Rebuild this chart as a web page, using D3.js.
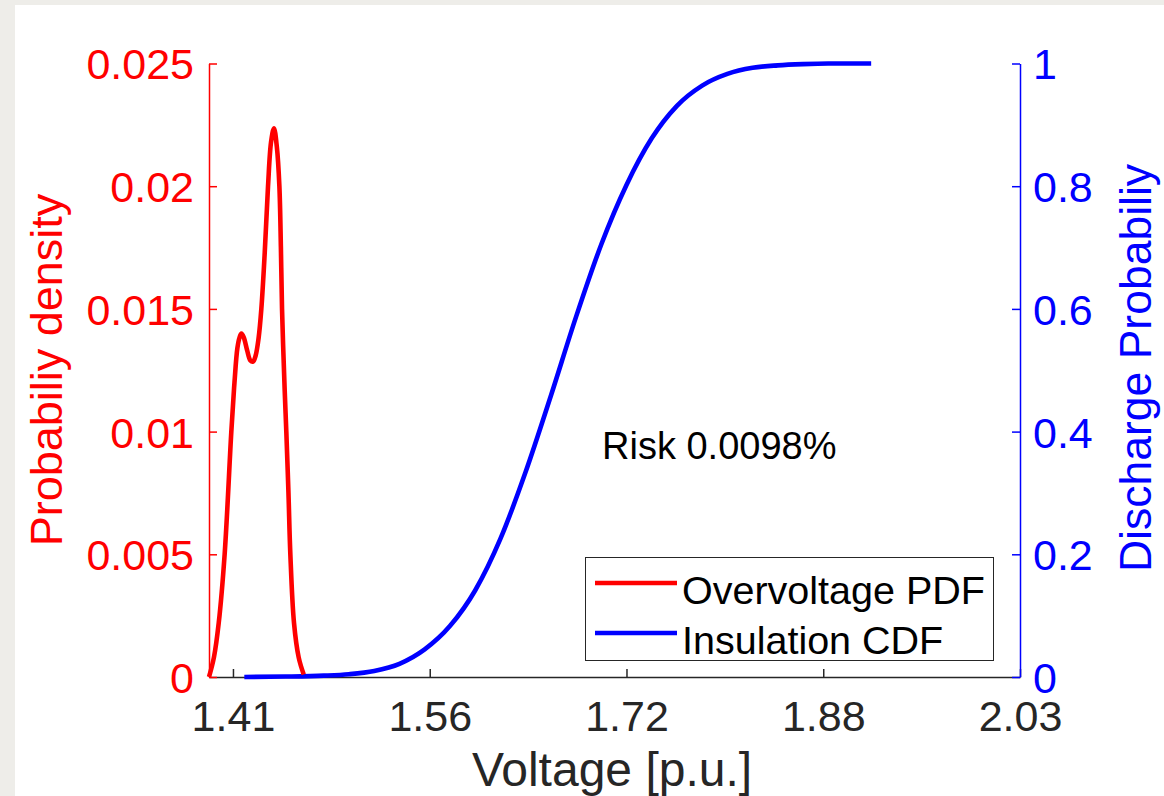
<!DOCTYPE html>
<html>
<head>
<meta charset="utf-8">
<script src="https://cdn.jsdelivr.net/npm/d3@7"></script>
<style>
  html, body { margin: 0; padding: 0; background: #eeede9; }
  svg { display: block; font-family: "Liberation Sans", Arial, Helvetica, sans-serif; }
</style>
</head>
<body>
<svg id="chart" width="1164" height="796"></svg>
<script>
// ---- Data ----
// Overvoltage PDF: voltage [p.u.] and probability density
const pdfVoltage = [1.389, 1.3929, 1.3967, 1.4014, 1.4067, 1.4092, 1.4115, 1.4133, 1.4147, 1.4165, 1.4193, 1.4218, 1.4239,
                    1.4260, 1.4283, 1.4305, 1.4332, 1.4358, 1.4382, 1.4405, 1.4428, 1.4448, 1.4460, 1.4469,
                    1.4490, 1.4503, 1.4520, 1.4535, 1.4564, 1.4601, 1.4641];
const pdfDensity = [0.0000, 0.0008, 0.0022, 0.0050, 0.0100, 0.0120, 0.0134, 0.01385, 0.0140, 0.01385, 0.0133, 0.0129, 0.01285,
                    0.0131, 0.0138, 0.0150, 0.0173, 0.0200, 0.0218, 0.02236, 0.0216, 0.0200, 0.0175, 0.0150,
                    0.0117, 0.0100, 0.0075, 0.0050, 0.0022, 0.0008, 0.0001];
// Insulation CDF: voltage [p.u.] and discharge probability
const cdfVoltage = [1.417, 1.45, 1.48, 1.50, 1.52, 1.54, 1.56, 1.58, 1.60, 1.62, 1.64, 1.66, 1.68,
                    1.70, 1.72, 1.74, 1.76, 1.78, 1.80, 1.82, 1.84, 1.86, 1.88, 1.914];
const cdfProb    = [0.000, 0.0007, 0.0022, 0.0045, 0.0098, 0.0215, 0.045, 0.083, 0.141, 0.225, 0.334,
                    0.458, 0.587, 0.705, 0.802, 0.878, 0.931, 0.964, 0.983, 0.993, 0.997, 0.999, 1.000, 1.000];
// Axis ticks
const xTickValues = [1.408, 1.564, 1.720, 1.876, 2.032];
const xTickLabels = ["1.41", "1.56", "1.72", "1.88", "2.03"];
const yLeftTicks  = [0, 0.005, 0.01, 0.015, 0.02, 0.025];
const yLeftLabels = ["0", "0.005", "0.01", "0.015", "0.02", "0.025"];
const yRightTicks = [0, 0.2, 0.4, 0.6, 0.8, 1];
const yRightLabels = ["0", "0.2", "0.4", "0.6", "0.8", "1"];
const legendLabels = ["Overvoltage PDF", "Insulation CDF"];
const riskText = "Risk 0.0098%";

// ---- Layout ----
const svg = d3.select("#chart");
const L = 209, R = 1020, T = 63.5, B = 677;
const x = d3.scaleLinear().domain([1.389, 2.032]).range([L, R]);
const yL = d3.scaleLinear().domain([0, 0.025]).range([B, T]);
const yR = d3.scaleLinear().domain([0, 1]).range([B, T]);

svg.append("rect").attr("x", 15).attr("y", 5).attr("width", 1164 - 15).attr("height", 796 - 5).attr("fill", "#ffffff");

const dark = "#262626";
const tickFont = 43;

// Bottom axis
const gx = svg.append("g").attr("transform", `translate(0,${B})`)
  .call(d3.axisBottom(x).tickValues(xTickValues).tickFormat((d, i) => xTickLabels[i])
        .tickSize(-8).tickSizeOuter(0).tickPadding(23));
gx.select(".domain").attr("stroke", dark).attr("stroke-width", 1.5);
gx.selectAll(".tick line").attr("stroke", dark).attr("stroke-width", 1.5);
gx.selectAll(".tick text").attr("fill", dark).attr("font-size", tickFont).attr("font-family", null);

// Left axis
const gl = svg.append("g").attr("transform", `translate(${L},0)`)
  .call(d3.axisLeft(yL).tickValues(yLeftTicks).tickFormat((d, i) => yLeftLabels[i])
        .tickSize(-8).tickSizeOuter(0).tickPadding(15));
gl.select(".domain").attr("stroke", "#ff0000").attr("stroke-width", 1.5);
gl.selectAll(".tick line").attr("stroke", "#ff0000").attr("stroke-width", 1.5);
gl.selectAll(".tick text").attr("fill", "#ff0000").attr("font-size", tickFont).attr("font-family", null).attr("dy", "0.36em");

// Right axis
const gr = svg.append("g").attr("transform", `translate(${R},0)`)
  .call(d3.axisRight(yR).tickValues(yRightTicks).tickFormat((d, i) => yRightLabels[i])
        .tickSize(-8).tickSizeOuter(0).tickPadding(13));
gr.select(".domain").attr("stroke", "#0000ff").attr("stroke-width", 1.5);
gr.selectAll(".tick line").attr("stroke", "#0000ff").attr("stroke-width", 1.5);
gr.selectAll(".tick text").attr("fill", "#0000ff").attr("font-size", tickFont).attr("font-family", null).attr("dy", "0.36em");

// Curves
const pdfData = pdfVoltage.map((v, i) => [v, pdfDensity[i]]);
const cdfData = cdfVoltage.map((v, i) => [v, cdfProb[i]]);

svg.append("path").datum(cdfData)
  .attr("fill", "none").attr("stroke", "#0000ff").attr("stroke-width", 4.6)
  .attr("d", d3.line().x(d => x(d[0])).y(d => yR(d[1])).curve(d3.curveMonotoneX));

svg.append("path").datum(pdfData)
  .attr("fill", "none").attr("stroke", "#ff0000").attr("stroke-width", 4.6)
  .attr("d", d3.line().x(d => x(d[0])).y(d => yL(d[1])).curve(d3.curveCatmullRom.alpha(0.5)));

// Axis labels
svg.append("text").attr("x", 612).attr("y", 786).attr("text-anchor", "middle")
  .attr("font-size", 48).attr("fill", dark).text("Voltage [p.u.]");
svg.append("text").attr("transform", "translate(62,370) rotate(-90)").attr("text-anchor", "middle")
  .attr("font-size", 45).attr("fill", "#ff0000").text("Probabiliy density");
svg.append("text").attr("transform", "translate(1151,368) rotate(-90)").attr("text-anchor", "middle")
  .attr("font-size", 44.5).attr("fill", "#0000ff").text("Discharge Probabiliy");

// Risk annotation
svg.append("text").attr("x", 602).attr("y", 459).attr("font-size", 38).attr("fill", "#000").text(riskText);

// Legend
const lg = svg.append("g");
lg.append("rect").attr("x", 585.5).attr("y", 557.5).attr("width", 408).attr("height", 103)
  .attr("fill", "#ffffff").attr("stroke", dark).attr("stroke-width", 1);
const legendColors = ["#ff0000", "#0000ff"];
const legendY = [583, 633];
legendLabels.forEach((lab, i) => {
  lg.append("line").attr("x1", 595).attr("x2", 677).attr("y1", legendY[i]).attr("y2", legendY[i])
    .attr("stroke", legendColors[i]).attr("stroke-width", 4.6);
  lg.append("text").attr("x", 682).attr("y", legendY[i] + 21).attr("font-size", 39.5).attr("fill", "#000").text(lab);
});
</script>
</body>
</html>
